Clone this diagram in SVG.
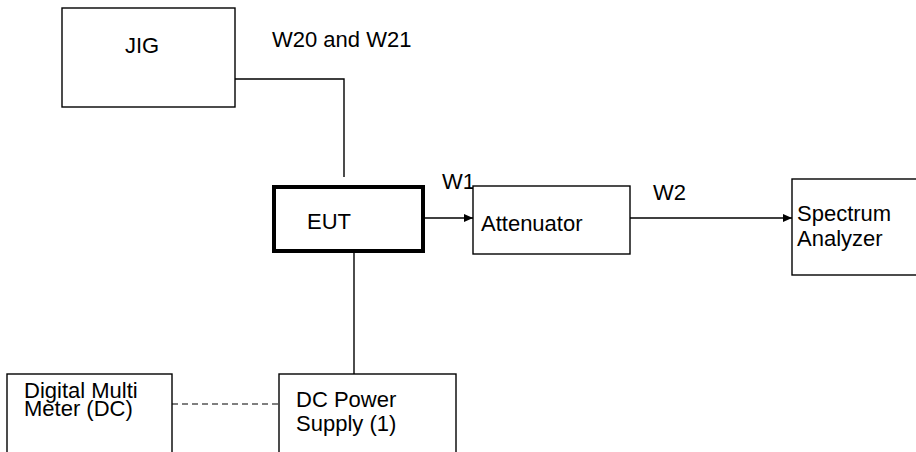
<svg xmlns="http://www.w3.org/2000/svg" width="916" height="452" viewBox="0 0 916 452">
<defs>
<style>
.box{fill:#fff;stroke:#000;stroke-width:1.4}
.thick{fill:#fff;stroke:#000;stroke-width:4}
.t{font-family:"Liberation Sans",Arial,sans-serif;font-size:22px;fill:#000}
.c{fill:none;stroke:#000;stroke-width:1.4}
.d{fill:none;stroke:#000;stroke-width:1.2;stroke-dasharray:6 4}
</style>
<marker id="arr" markerWidth="9" markerHeight="8" refX="9" refY="4" orient="auto" markerUnits="userSpaceOnUse">
<path d="M0,0 L9,4 L0,8 Z" fill="#000"/>
</marker>
</defs>
<rect width="916" height="452" fill="#fff"/>
<g id="connectors">
<polyline class="c" points="235,79 344,79 344,177"/>
<line class="c" x1="354" y1="253" x2="354" y2="374"/>
<line class="c" x1="425" y1="218" x2="473" y2="218" marker-end="url(#arr)"/>
<line class="c" x1="630" y1="218" x2="792" y2="218" marker-end="url(#arr)"/>
<line class="d" x1="172" y1="404" x2="279" y2="404"/>
<text class="t" x="272" y="47">W20 and W21</text>
<text class="t" x="442" y="189">W1</text>
<text class="t" x="653" y="200">W2</text>
</g>
<g id="jig">
<rect class="box" x="62" y="8" width="173" height="99"/>
<text class="t" x="125" y="53">JIG</text>
</g>
<g id="eut">
<rect class="thick" x="274" y="187" width="149" height="64"/>
<text class="t" x="307" y="229">EUT</text>
</g>
<g id="attenuator">
<rect class="box" x="473" y="186" width="157" height="68"/>
<text class="t" x="481" y="231">Attenuator</text>
</g>
<g id="spectrum">
<rect class="box" x="792" y="179" width="140" height="96"/>
<text class="t" x="797" y="221">Spectrum</text>
<text class="t" x="797" y="246">Analyzer</text>
</g>
<g id="dmm">
<rect class="box" x="7" y="374" width="165" height="90"/>
<text class="t" x="24" y="398">Digital Multi</text>
<text class="t" x="24" y="416">Meter (DC)</text>
</g>
<g id="dcpower">
<rect class="box" x="279" y="374" width="177" height="90"/>
<text class="t" x="296" y="407">DC Power</text>
<text class="t" x="296" y="431">Supply (1)</text>
</g>
</svg>
